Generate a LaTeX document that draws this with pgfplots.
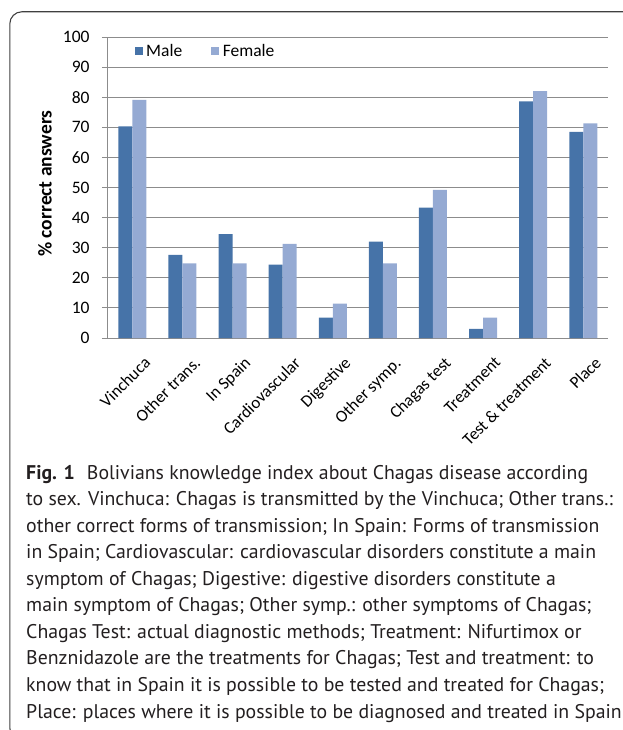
\documentclass[border=0pt]{standalone}
\usepackage{fontspec}
\setmainfont{Carlito}
\newfontfamily\capfont{PT Sans}
\usepackage{pgfplots}
\pgfplotsset{compat=1.18}
\definecolor{male}{HTML}{4673A8}
\definecolor{female}{HTML}{95AAD3}
\definecolor{gridgray}{HTML}{8C8C8C}
\definecolor{captxt}{HTML}{231F20}
\begin{document}
\begin{tikzpicture}
\path[use as bounding box] (0pt,0pt) rectangle (623pt,-730pt);
\begin{scope}
\clip (0pt,0pt) rectangle (623pt,-730pt);
\draw[line width=1.1pt, draw=black!75, rounded corners=12pt] (9.8pt,-11.8pt) rectangle (660pt,-740pt);
\end{scope}
\begin{axis}[
  at={(107.3pt,-338pt)}, anchor=south west,
  scale only axis, width=501pt, height=301pt,
  xmin=-0.5, xmax=9.5, ymin=0, ymax=100,
  ybar=0pt, bar width=14pt,
  axis lines*=left,
  axis line style={gridgray, line width=0.9pt},
  ymajorgrids, grid style={gridgray, line width=0.9pt},
  ytick={0,10,...,100},
  xtick={0,...,9},
  xticklabels={Vinchuca, Other trans., In Spain, Cardiovascular, Digestive, Other symp., Chagas test, Treatment, Test \& treatment, Place},
  x tick style={draw=none},
  y tick style={gridgray, line width=0.9pt},
  tick align=outside, major tick length=5.5pt,
  /pgf/number format/assume math mode=true,
  tick label style={font=\fontsize{17.5}{20}\selectfont, text=black},
  xticklabel style={font=\fontsize{17}{20}\selectfont, rotate=45, anchor=north east, inner sep=1pt, xshift=0pt, yshift=-15pt},
  yticklabel style={inner sep=0pt, xshift=-12pt},
  ylabel={\bfseries \% correct answers},
  ylabel style={font=\fontsize{19.5}{22}\selectfont, at={(axis description cs:-0.1244,0.513)}, anchor=center, rotate=0},
  legend style={draw=none, fill=none, inner sep=0pt, at={(rel axis cs:0.0553,0.953)}, anchor=west,
    font=\fontsize{17.5}{20}\selectfont, legend columns=2,
    nodes={inner sep=0pt},
    /tikz/every even column/.append style={column sep=29pt}},
]
\addplot[fill=male, draw=none, legend image code/.code={\fill[male] (0pt,-4pt) rectangle (7.5pt,3.8pt);}]
  coordinates {(0,70.3) (1,27.6) (2,34.5) (3,24.4) (4,6.8) (5,32.0) (6,43.3) (7,3.0) (8,78.6) (9,68.5)};
\addplot[fill=female, draw=none, legend image code/.code={\fill[female] (0pt,-4pt) rectangle (7.5pt,3.8pt);}]
  coordinates {(0,79.1) (1,24.8) (2,24.8) (3,31.3) (4,11.4) (5,24.8) (6,49.2) (7,6.8) (8,82.0) (9,71.3)};
\legend{\hspace*{3.5pt}Male, \hspace*{4pt}Female}
\end{axis}
\begin{scope}[every node/.style={anchor=base west, inner sep=0pt, text=captxt, font=\capfont\fontsize{19.8}{22}\selectfont}]
\node at (26pt,-479pt) {\textbf{Fig. 1}\hspace{12pt}Bolivians knowledge index about Chagas disease according};
\node at (26pt,-505.6pt) {to sex. Vinchuca: Chagas is transmitted by the Vinchuca; Other trans.:};
\node at (26pt,-532.1pt) {other correct forms of transmission; In Spain: Forms of transmission};
\node at (26pt,-558.7pt) {in Spain; Cardiovascular: cardiovascular disorders constitute a main};
\node at (26pt,-585.2pt) {symptom of Chagas; Digestive: digestive disorders constitute a};
\node at (26pt,-611.8pt) {main symptom of Chagas; Other symp.: other symptoms of Chagas;};
\node at (26pt,-638.4pt) {Chagas Test: actual diagnostic methods; Treatment: Nifurtimox or};
\node at (26pt,-664.9pt) {Benznidazole are the treatments for Chagas; Test and treatment: to};
\node at (26pt,-691.5pt) {know that in Spain it is possible to be tested and treated for Chagas;};
\node at (26pt,-718pt) {Place: places where it is possible to be diagnosed and treated in Spain};
\end{scope}
\end{tikzpicture}
\end{document}
